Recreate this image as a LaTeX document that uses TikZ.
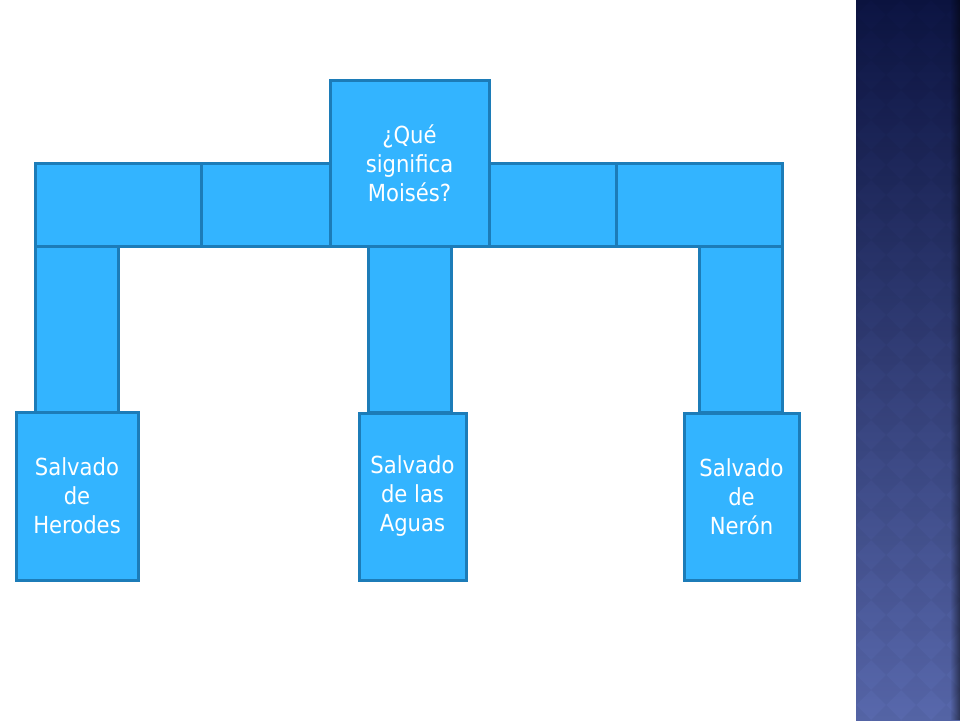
\documentclass[tikz,border=0pt]{standalone}
\usepackage{fontspec}
\setmainfont{DejaVu Sans Condensed}
\usetikzlibrary{fadings}
\definecolor{fillc}{RGB}{51,180,255}
\definecolor{bordc}{RGB}{28,124,184}
\definecolor{striptop}{RGB}{12,20,66}
\definecolor{stripmid}{RGB}{50,62,125}
\definecolor{stripbot}{RGB}{88,104,172}
\begin{document}
\begin{tikzpicture}[x=1pt,y=-1pt,
  box/.style={draw=bordc, line width=3pt, fill=fillc, rectangle, inner sep=0pt, outer sep=0pt,
    anchor=north west, text=white, align=center,
    font=\fontsize{23.5}{29}\selectfont}]
\useasboundingbox (0,0) rectangle (960,720);
\fill[white] (0,0) rectangle (960,720);
% decorative strip
\shade[top color=striptop, middle color=stripmid, bottom color=stripbot] (856,0) rectangle (960,720);
\begin{scope}
\clip (856,0) rectangle (960,720);
\foreach \a in {0,...,4}{
  \foreach \b in {0,...,24}{
    \fill[black, opacity=0.035] (856+30*\a, 30*\b-15) -- ++(15,15) -- ++(-15,15) -- ++(-15,-15) -- cycle;
  }
}
\end{scope}
\fill[black, opacity=0.5, path fading=west] (950,0) rectangle (960,720);
% horizontal row
\node[box, minimum width=166pt, minimum height=83pt] (r1) at (35,163) {};
\node[box, minimum width=129pt, minimum height=83pt] (r2) at (201,163) {};
\node[box, minimum width=127pt, minimum height=83pt] (r4) at (489,163) {};
\node[box, minimum width=166pt, minimum height=83pt] (r5) at (616,163) {};
% top box
\node[box, minimum width=159pt, minimum height=166pt] (top) at (330,80) {¿Qué\\significa\\Moisés?};
% pillars
\node[box, minimum width=83pt, minimum height=166pt] (p1) at (35,246) {};
\node[box, minimum width=83pt, minimum height=166pt] (p2) at (368,246) {};
\node[box, minimum width=83pt, minimum height=166pt] (p3) at (699,246) {};
% bottom boxes
\node[box, minimum width=122pt, minimum height=168pt] (b1) at (16,412) {Salvado\\de\\Herodes};
\node[box, minimum width=107pt, minimum height=167pt] (b2) at (359,413) {Salvado\\de las\\Aguas};
\node[box, minimum width=115pt, minimum height=167pt] (b3) at (684,413) {Salvado\\de\\Nerón};
\end{tikzpicture}
\end{document}
